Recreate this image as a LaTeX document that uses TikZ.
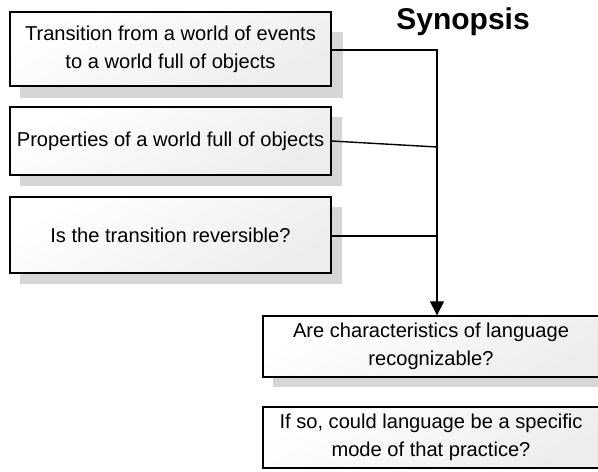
\documentclass[tikz,border=0pt]{standalone}
\usepackage{fontspec}
\setmainfont{Liberation Sans}
\usetikzlibrary{arrows.meta,calc}
\begin{document}
\begin{tikzpicture}[x=1bp,y=-1bp,
  box/.style={draw=black, line width=1.4bp, inner sep=0pt, align=center,
    top color=white, bottom color=black!7, shading angle=30,
    font=\fontsize{20.1bp}{28bp}\selectfont},
  shadowc/.style={fill=black!16},
  conn/.style={line width=1.4bp}]
\useasboundingbox (0,0) rectangle (598,472);
% shadows
\fill[shadowc] (20,32) rectangle (343,98);
\fill[shadowc] (20,117) rectangle (342,186);
\fill[shadowc] (20,207) rectangle (342,284);
\fill[shadowc] (273,330) rectangle (600,387);
% boxes
\node[box, minimum width=321bp, minimum height=74bp] (b1) at (170.5,49)
  {Transition from a world of events\\to a world full of objects};
\node[box, minimum width=321bp, minimum height=68bp] (b2) at (170.5,141)
  {Properties of a world full of objects};
\node[box, minimum width=321bp, minimum height=76bp] (b3) at (170.5,235)
  {Is the transition reversible?};
\node[box, minimum width=336bp, minimum height=61bp] (b4) at (431,346.5)
  {Are characteristics of language\\recognizable?};
\node[box, minimum width=336bp, minimum height=61bp] (b5) at (431,437.5)
  {If so, could language be a specific\\mode of that practice?};
\node[font=\bfseries\fontsize{30bp}{36bp}\selectfont] (title) at (463,22) {Synopsis};
% connectors
\coordinate (c1) at (437,50);
\coordinate (c2) at (437,147);
\coordinate (c3) at (437,236);
\draw[conn] (b1.east |- c1) -- (c1) -- (c2) -- (c3);
\draw[conn] (b2.east) -- (c2);
\draw[conn] (b3.east |- c3) -- (c3);
\draw[conn, -{Triangle[length=14bp,width=14bp]}] (c3) -- (c3 |- b4.north);
\end{tikzpicture}
\end{document}
